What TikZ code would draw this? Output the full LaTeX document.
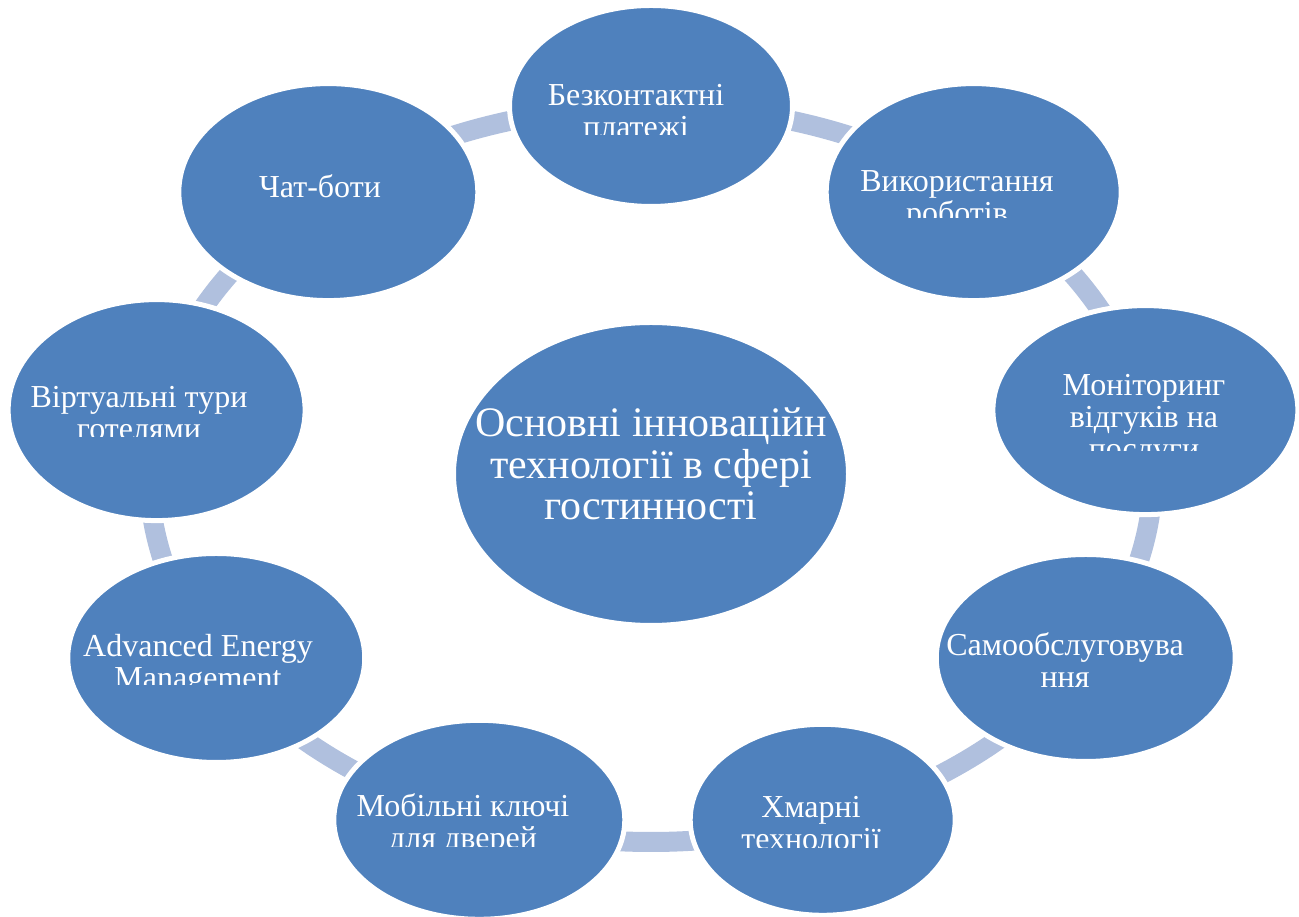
\documentclass[tikz,border=0pt]{standalone}
\usepackage{fontspec}
\setmainfont{Liberation Serif}
\usetikzlibrary{shapes.geometric,backgrounds,calc}
\definecolor{blobc}{RGB}{79,129,189}
\definecolor{barc}{RGB}{176,192,222}
\begin{document}
\begin{tikzpicture}[x=1pt,y=1pt,
  blob/.style={ellipse, fill=blobc, draw=white, line width=5pt, inner sep=0pt},
  conn/.style={draw=barc, line width=20pt},
  lbl/.style={text=white, align=center, font=\fontsize{32}{32}\selectfont, inner sep=0pt, anchor=base},
  bigl/.style={text=white, align=center, font=\fontsize{42}{41.5}\selectfont, inner sep=0pt, anchor=base}]
\useasboundingbox (0,0) rectangle (1299,917);
% outer ring of ellipses
\node[blob, minimum width=283pt, minimum height=201pt] (n1) at ({651+502*cos(90)},{443+368*sin(90)}) {};
\node[blob, minimum width=295pt, minimum height=217pt] (n2) at ({651+502*cos(50)},{443+368*sin(50)}) {};
\node[blob, minimum width=305pt, minimum height=209pt] (n3) at ({651+502*cos(10)},{443+368*sin(10)}) {};
\node[blob, minimum width=299pt, minimum height=207pt] (n4) at ({651+502*cos(-30)},{443+368*sin(-30)}) {};
\node[blob, minimum width=265pt, minimum height=191pt] (n5) at ({651+502*cos(-70)},{443+368*sin(-70)}) {};
\node[blob, minimum width=291pt, minimum height=199pt] (n6) at ({651+502*cos(-110)},{443+368*sin(-110)}) {};
\node[blob, minimum width=297pt, minimum height=209pt] (n7) at ({651+502*cos(-150)},{443+368*sin(-150)}) {};
\node[blob, minimum width=297pt, minimum height=221pt] (n8) at ({651+502*cos(170)},{443+368*sin(170)}) {};
\node[blob, minimum width=299pt, minimum height=217pt] (n9) at ({651+502*cos(130)},{443+368*sin(130)}) {};
% centre
\node[blob, minimum width=395pt, minimum height=303pt] (c) at (651,443) {};
% connectors (arcs of the ring, behind the ellipses)
\begin{pgfonlayer}{background}
\foreach \a/\b/\t in {n1/n2/90, n2/n3/50, n3/n4/10, n4/n5/-30, n5/n6/-70, n6/n7/-110, n7/n8/-150, n8/n9/-190, n9/n1/-230}
  \draw[conn] (\a.center) .. controls ($(\a.center)+({0.2351*502*sin(\t)},{-0.2351*368*cos(\t)})$) and ($(\b.center)+({-0.2351*502*sin(\t-40)},{0.2351*368*cos(\t-40)})$) .. (\b.center);
\end{pgfonlayer}
% labels (clipped like the original text boxes); base = last line
\begin{scope}\clip (0,{917-135}) rectangle (1299,917);
\node[lbl] (t1) at (636,{917-138}) {Безконтактні\\платежі};
\end{scope}
\begin{scope}\clip (0,{917-218}) rectangle (1299,917);
\node[lbl] (t2) at (957,{917-224}) {Використання\\роботів};
\end{scope}
\begin{scope}\clip (0,{917-451}) rectangle (1299,917);
\node[lbl] (t3) at (1144,{917-460}) {Моніторинг\\відгуків на\\послуги};
\end{scope}
\node[lbl] (t4) at (1065,{917-688}) {Самообслуговува\\ння};
\begin{scope}\clip (0,{917-848}) rectangle (1299,917);
\node[lbl] (t5) at (811,{917-850}) {Хмарні\\технології};
\end{scope}
\begin{scope}\clip (0,{917-847}) rectangle (1299,917);
\node[lbl] (t6) at (463,{917-849}) {Мобільні ключі\\для дверей};
\end{scope}
\begin{scope}\clip (0,{917-685}) rectangle (1299,917);
\node[lbl] (t7) at (198,{917-689}) {Advanced Energy\\Management};
\end{scope}
\begin{scope}\clip (0,{917-437}) rectangle (1299,917);
\node[lbl] (t8) at (139,{917-440}) {Віртуальні тури\\готелями};
\end{scope}
\node[lbl] (t9) at (320,{917-198}) {Чат-боти};
\node[bigl] (tc) at (651,{917-520}) {Основні інноваційн\\технології в сфері\\гостинності};
\end{tikzpicture}
\end{document}
